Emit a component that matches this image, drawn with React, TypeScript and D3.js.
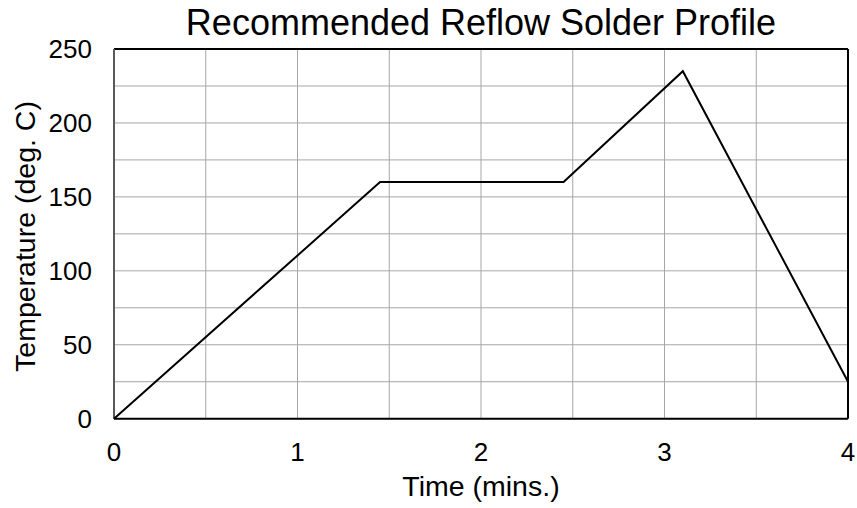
import React from "react";
import * as d3 from "d3";

const timeMins = [0, 1.45, 2.45, 3.1, 4];
const tempC = [0, 160, 160, 235, 25];
const xTicks = [0, 1, 2, 3, 4];
const yTicks = [0, 50, 100, 150, 200, 250];
const xGrid = [0, 0.5, 1, 1.5, 2, 2.5, 3, 3.5, 4];
const yGrid = [0, 25, 50, 75, 100, 125, 150, 175, 200, 225, 250];

const W = 857;
const H = 508;
const L = 114, R = 848, T = 49, B = 418.7;
const font = "Liberation Sans, Arial, sans-serif";

export default function App() {
  const x = d3.scaleLinear().domain([0, 4]).range([L, R]);
  const y = d3.scaleLinear().domain([0, 250]).range([B, T]);
  const pts = timeMins.map((t, i) => [t, tempC[i]] as [number, number]);
  const line = d3.line<[number, number]>().x(d => x(d[0])).y(d => y(d[1]));
  return (
    <svg width={W} height={H} style={{ position: "absolute", left: 0, top: 0, background: "#fff" }} fontFamily={font}>
      <rect x={0} y={0} width={W} height={H} fill="#fff" />
      {xGrid.map(v => (
        <line key={"gx" + v} x1={x(v)} x2={x(v)} y1={T} y2={B} stroke="#a6a6a6" strokeWidth={1} />
      ))}
      {yGrid.map(v => (
        <line key={"gy" + v} x1={L} x2={R} y1={y(v)} y2={y(v)} stroke="#a6a6a6" strokeWidth={1} />
      ))}
      <line x1={L} x2={R} y1={T} y2={T} stroke="#000" strokeWidth={2} />
      <line x1={R} x2={R} y1={T} y2={B} stroke="#000" strokeWidth={2} />
      <line x1={L} x2={R} y1={B} y2={B} stroke="#000" strokeWidth={2} />
      <line x1={L} x2={L} y1={T} y2={B} stroke="#595959" strokeWidth={2} />
      <path d={line(pts) || ""} fill="none" stroke="#000" strokeWidth={2} strokeLinejoin="miter" />
      {yTicks.map(v => (
        <text key={"ty" + v} x={92} y={y(v) + 9} textAnchor="end" fontSize={26} fill="#000">{v}</text>
      ))}
      {xTicks.map(v => (
        <text key={"tx" + v} x={x(v)} y={460.5} textAnchor="middle" fontSize={26} fill="#000">{v}</text>
      ))}
      <text x={(L + R) / 2} y={35} textAnchor="middle" fontSize={36} fill="#000">Recommended Reflow Solder Profile</text>
      <text x={(L + R) / 2} y={496} textAnchor="middle" fontSize={28.5} fill="#000">Time (mins.)</text>
      <text transform={`translate(35,236.5) rotate(-90)`} textAnchor="middle" fontSize={28.5} fill="#000">Temperature (deg. C)</text>
    </svg>
  );
}
